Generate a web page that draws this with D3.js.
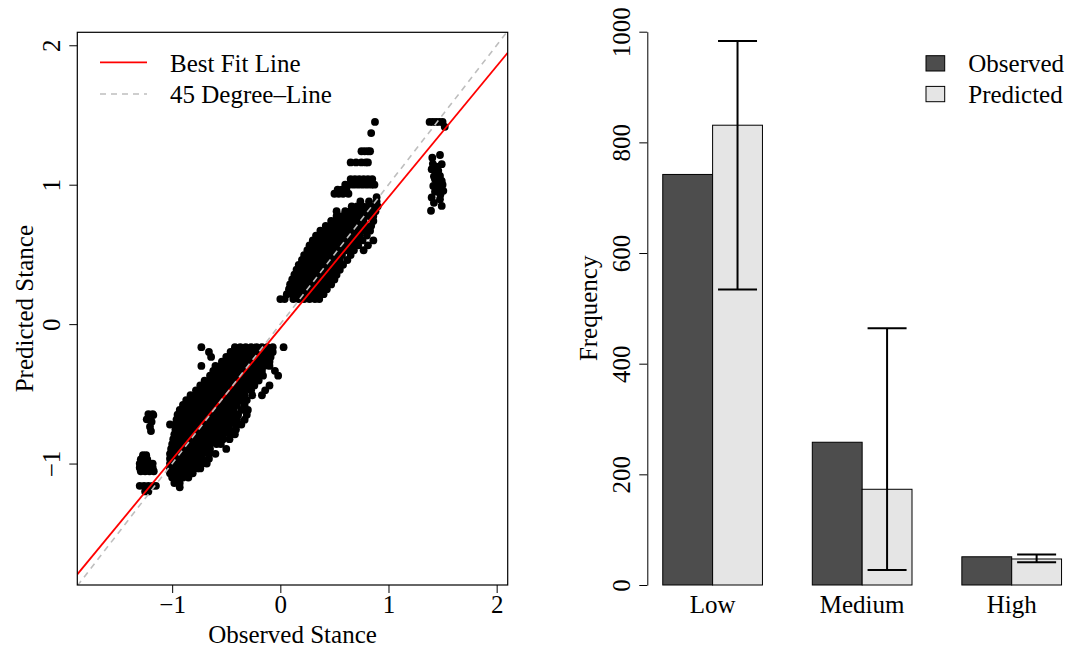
<!DOCTYPE html>
<html>
<head>
<meta charset="utf-8">
<script src="https://cdn.jsdelivr.net/npm/d3@7"></script>
<style>
  body { margin: 0; background: #fff; }
  text { font-family: "Liberation Serif", "Times New Roman", serif; fill: #000; }
</style>
</head>
<body>
<svg id="chart" width="1067" height="648"></svg>
<script>
// ---------------- Scatter data (Observed stance x, Predicted stance y) ----------------
// rows: [predicted value, [observed values ...]]
const upperRows = [
  [0.18,  [0.00, 0.04, 0.12, 0.17, 0.22, 0.27, 0.32, 0.36]],
  [0.215, [0.06, 0.11, 0.16, 0.21, 0.26, 0.31, 0.36, 0.40]],
  [0.25,  [0.08, 0.13, 0.18, 0.23, 0.28, 0.33, 0.38, 0.43]],
  [0.285, [0.09, 0.14, 0.19, 0.24, 0.29, 0.34, 0.39, 0.43, 0.47]],
  [0.32,  [0.11, 0.16, 0.21, 0.26, 0.31, 0.36, 0.41, 0.46, 0.50]],
  [0.355, [0.13, 0.18, 0.23, 0.28, 0.33, 0.38, 0.43, 0.48, 0.52]],
  [0.39,  [0.15, 0.20, 0.25, 0.30, 0.35, 0.40, 0.45, 0.50, 0.55]],
  [0.425, [0.17, 0.22, 0.27, 0.32, 0.37, 0.42, 0.47, 0.52, 0.58]],
  [0.46,  [0.20, 0.25, 0.30, 0.35, 0.40, 0.45, 0.50, 0.55, 0.62]],
  [0.495, [0.22, 0.27, 0.32, 0.37, 0.42, 0.47, 0.52, 0.57, 0.65]],
  [0.53,  [0.25, 0.30, 0.35, 0.40, 0.45, 0.50, 0.55, 0.60, 0.64, 0.68, 0.77]],
  [0.565, [0.27, 0.32, 0.37, 0.42, 0.47, 0.52, 0.57, 0.62, 0.67, 0.72, 0.81]],
  [0.60,  [0.30, 0.35, 0.40, 0.45, 0.50, 0.55, 0.60, 0.65, 0.70, 0.76, 0.86]],
  [0.635, [0.33, 0.38, 0.43, 0.48, 0.53, 0.58, 0.63, 0.68, 0.73, 0.80]],
  [0.67,  [0.37, 0.42, 0.47, 0.52, 0.57, 0.62, 0.67, 0.72, 0.77, 0.83]],
  [0.705, [0.42, 0.47, 0.52, 0.57, 0.62, 0.67, 0.72, 0.78, 0.84]],
  [0.74,  [0.47, 0.52, 0.57, 0.62, 0.67, 0.72, 0.77, 0.86]],
  [0.775, [0.52, 0.57, 0.62, 0.67, 0.72, 0.77, 0.82, 0.86]],
  [0.81,  [0.52, 0.60, 0.65, 0.70, 0.75, 0.80, 0.84, 0.88]],
  [0.845, [0.66, 0.71, 0.76, 0.81, 0.86, 0.90]],
  [0.88,  [0.74, 0.82, 0.89]],
  [0.91,  [0.89]],
  [0.935, [0.50, 0.54, 0.58, 0.63]],
  [0.965, [0.53, 0.57, 0.61]],
  [1.00,  [0.60, 0.64, 0.68, 0.72, 0.76, 0.80, 0.84, 0.87]],
  [1.04,  [0.65, 0.69, 0.73, 0.77, 0.81, 0.85]],
  [1.16,  [0.65, 0.70, 0.75, 0.79, 0.81]],
  [1.24,  [0.75, 0.78, 0.81, 0.83]],
  [1.37,  [0.84]],
  [1.45,  [0.875]]
];

const lowerRows = [
  [-0.165, [-0.73, -0.42, -0.37, -0.32, -0.27, -0.22, -0.17, -0.12, -0.07, 0.03]],
  [-0.20,  [-0.66, -0.46, -0.41, -0.36, -0.31, -0.26, -0.21, -0.16, -0.11, -0.07]],
  [-0.235, [-0.64, -0.50, -0.45, -0.40, -0.35, -0.30, -0.25, -0.20, -0.15, -0.09]],
  [-0.27,  [-0.54, -0.49, -0.44, -0.39, -0.34, -0.29, -0.24, -0.19, -0.14, -0.10]],
  [-0.30,  [-0.73, -0.60, -0.55, -0.50, -0.45, -0.40, -0.35, -0.30, -0.25, -0.20, -0.15, -0.10]],
  [-0.335, [-0.62, -0.57, -0.52, -0.47, -0.42, -0.37, -0.32, -0.27, -0.22, -0.17, -0.05]],
  [-0.37,  [-0.65, -0.60, -0.55, -0.50, -0.45, -0.40, -0.35, -0.30, -0.25, -0.20, -0.16, -0.02]],
  [-0.405, [-0.70, -0.65, -0.60, -0.55, -0.50, -0.45, -0.40, -0.35, -0.30, -0.25, -0.20]],
  [-0.44,  [-0.74, -0.69, -0.64, -0.59, -0.54, -0.49, -0.44, -0.39, -0.34, -0.29, -0.24, -0.10]],
  [-0.475, [-0.78, -0.73, -0.68, -0.63, -0.58, -0.53, -0.48, -0.43, -0.38, -0.33, -0.27, -0.14]],
  [-0.51,  [-0.83, -0.78, -0.73, -0.68, -0.63, -0.58, -0.53, -0.48, -0.43, -0.38, -0.33, -0.26, -0.17]],
  [-0.545, [-0.87, -0.82, -0.77, -0.72, -0.67, -0.62, -0.57, -0.52, -0.47, -0.42, -0.37, -0.31]],
  [-0.58,  [-0.90, -0.85, -0.80, -0.75, -0.70, -0.65, -0.60, -0.55, -0.50, -0.45, -0.40, -0.33]],
  [-0.615, [-0.93, -0.88, -0.83, -0.78, -0.73, -0.68, -0.63, -0.58, -0.53, -0.48, -0.43, -0.36, -0.30]],
  [-0.65,  [-0.95, -0.90, -0.85, -0.80, -0.75, -0.70, -0.65, -0.60, -0.55, -0.50, -0.45, -0.39, -0.31]],
  [-0.685, [-0.96, -0.91, -0.86, -0.81, -0.76, -0.71, -0.66, -0.61, -0.56, -0.51, -0.46, -0.40, -0.33]],
  [-0.72,  [-1.02, -0.97, -0.92, -0.87, -0.82, -0.77, -0.72, -0.67, -0.62, -0.57, -0.52, -0.47, -0.41, -0.36]],
  [-0.755, [-0.97, -0.92, -0.87, -0.82, -0.77, -0.72, -0.67, -0.62, -0.57, -0.52, -0.47, -0.41]],
  [-0.79,  [-0.98, -0.93, -0.88, -0.83, -0.78, -0.73, -0.68, -0.63, -0.58, -0.53, -0.47, -0.42]],
  [-0.825, [-0.99, -0.94, -0.89, -0.84, -0.79, -0.74, -0.69, -0.64, -0.59, -0.53, -0.47]],
  [-0.86,  [-1.00, -0.95, -0.90, -0.85, -0.80, -0.75, -0.70, -0.65, -0.59, -0.55]],
  [-0.895, [-1.01, -0.96, -0.91, -0.86, -0.81, -0.76, -0.71, -0.65, -0.50]],
  [-0.93,  [-1.02, -0.97, -0.92, -0.87, -0.82, -0.77, -0.72, -0.66, -0.60]],
  [-0.965, [-1.02, -0.97, -0.92, -0.87, -0.82, -0.77, -0.72, -0.66]],
  [-1.00,  [-1.02, -0.97, -0.92, -0.87, -0.82, -0.77, -0.72, -0.68]],
  [-1.035, [-1.02, -0.97, -0.92, -0.87, -0.82, -0.77, -0.74]],
  [-1.07,  [-1.02, -0.96, -0.91, -0.86, -0.81]],
  [-1.10,  [-1.00, -0.95, -0.90, -0.85]],
  [-1.14,  [-0.98, -0.93]],
  [-1.17,  [-0.93]]
];

const farLeftRows = [
  [-0.645, [-1.22, -1.18]],
  [-0.652, [-1.174]],
  [-0.683, [-1.235]],
  [-0.70,  [-1.19]],
  [-0.736, [-1.205]],
  [-0.767, [-1.196]],
  [-0.94,  [-1.27, -1.24]],
  [-0.97,  [-1.29, -1.26, -1.23]],
  [-1.00,  [-1.30, -1.27, -1.24, -1.21, -1.18]],
  [-1.03,  [-1.30, -1.26, -1.22, -1.18]],
  [-1.055, [-1.29, -1.25, -1.21, -1.17]],
  [-1.16,  [-1.30, -1.26, -1.22, -1.18, -1.15]],
  [-1.20,  [-1.25, -1.22]]
];

const highClusterPoints = [
  [1.38, 1.45], [1.41, 1.45], [1.44, 1.45], [1.47, 1.45], [1.50, 1.45], [1.52, 1.415],
  [1.405, 1.194], [1.476, 1.213], [1.492, 1.147], [1.41, 1.15], [1.44, 1.13],
  [1.399, 1.111], [1.46, 1.10], [1.445, 1.087], [1.42, 1.06], [1.476, 1.063],
  [1.43, 1.039], [1.45, 1.02], [1.492, 1.027], [1.50, 1.00], [1.414, 0.991],
  [1.47, 0.99], [1.46, 0.968], [1.507, 0.956], [1.43, 0.95], [1.48, 0.93],
  [1.399, 0.908], [1.476, 0.896], [1.42, 0.87], [1.492, 0.848], [1.393, 0.813]
];

const fitIntercept = -0.03;
const fitSlope = 0.94;
const scatterTicks = [-1, 0, 1, 2];
const legendScatter = ["Best Fit Line", "45 Degree\u2013Line"];

// ---------------- Bar data ----------------
const categories = ["Low", "Medium", "High"];
const seriesNames = ["Observed", "Predicted"];
const observedFreq = [742, 258, 51];
const predictedFreq = [831, 173, 47];
const predictedLower = [534, 27, 41];
const predictedUpper = [983, 464, 55];
const freqTicks = [0, 200, 400, 600, 800, 1000];
const seriesColors = ["#4d4d4d", "#e5e5e5"];

// ---------------- Drawing ----------------
const svg = d3.select("#chart");
const FS = 25;
const minus = d => (d < 0 ? "\u2212" + Math.abs(d) : String(d));

const scatterPoints = []
  .concat(...[upperRows, lowerRows, farLeftRows].map(rows =>
     rows.flatMap(([yv, xs]) => xs.map(xv => ({ x: xv, y: yv })))))
  .concat(highClusterPoints.map(([xv, yv]) => ({ x: xv, y: yv })));

// Left panel
const L = { left: 77.3, right: 507.7, top: 32.3, bottom: 585 };
const x = d3.scaleLinear().domain([-1.877, 2.102]).range([L.left, L.right]);
const y = d3.scaleLinear().domain([-1.871, 2.093]).range([L.bottom, L.top]);

svg.append("clipPath").attr("id", "clipL").append("rect")
  .attr("x", L.left).attr("y", L.top)
  .attr("width", L.right - L.left).attr("height", L.bottom - L.top);

const gL = svg.append("g");
gL.append("g").selectAll("circle").data(scatterPoints).join("circle")
  .attr("cx", d => x(d.x)).attr("cy", d => y(d.y)).attr("r", 3.9).attr("fill", "#000");

const dom = x.domain();
const lines = gL.append("g").attr("clip-path", "url(#clipL)");
lines.append("line")
  .attr("x1", x(dom[0])).attr("y1", y(fitIntercept + fitSlope * dom[0]))
  .attr("x2", x(dom[1])).attr("y2", y(fitIntercept + fitSlope * dom[1]))
  .attr("stroke", "#ff0000").attr("stroke-width", 1.8);
lines.append("line")
  .attr("x1", x(dom[0])).attr("y1", y(dom[0]))
  .attr("x2", x(dom[1])).attr("y2", y(dom[1]))
  .attr("stroke", "#bebebe").attr("stroke-width", 1.6).attr("stroke-dasharray", "6,5");

gL.append("rect").attr("x", L.left).attr("y", L.top)
  .attr("width", L.right - L.left).attr("height", L.bottom - L.top)
  .attr("fill", "none").attr("stroke", "#000").attr("stroke-width", 1.2);

const xAxis = gL.append("g").attr("transform", `translate(0,${L.bottom})`)
  .call(d3.axisBottom(x).tickValues(scatterTicks).tickSize(8).tickSizeOuter(0).tickFormat(minus));
xAxis.select(".domain").remove();
xAxis.selectAll("line").attr("stroke", "#000");
xAxis.selectAll("text").attr("y", 27.7).attr("dy", null)
  .style("font-size", FS + "px").style("font-family", "Liberation Serif, serif");

const yAxis = gL.append("g").attr("transform", `translate(${L.left},0)`)
  .call(d3.axisLeft(y).tickValues(scatterTicks).tickSize(8).tickSizeOuter(0).tickFormat(minus));
yAxis.select(".domain").remove();
yAxis.selectAll("text").attr("x", 0).attr("y", 0).attr("dy", null)
  .attr("text-anchor", "middle")
  .attr("transform", "translate(-17.3,0) rotate(-90)")
  .style("font-size", FS + "px").style("font-family", "Liberation Serif, serif");

gL.append("text").attr("x", (L.left + L.right) / 2).attr("y", 643)
  .attr("text-anchor", "middle").style("font-size", FS + "px").text("Observed Stance");
gL.append("text").attr("transform", `translate(32.5,${(L.top + L.bottom) / 2}) rotate(-90)`)
  .attr("text-anchor", "middle").style("font-size", FS + "px").text("Predicted Stance");

// legend (left)
const legL = gL.append("g");
const legYs = [62.3, 94];
legL.append("line").attr("x1", 100).attr("x2", 147).attr("y1", legYs[0]).attr("y2", legYs[0])
  .attr("stroke", "#ff0000").attr("stroke-width", 1.8);
legL.append("line").attr("x1", 100).attr("x2", 147).attr("y1", legYs[1]).attr("y2", legYs[1])
  .attr("stroke", "#bebebe").attr("stroke-width", 1.6).attr("stroke-dasharray", "6,5");
legendScatter.forEach((t, i) => {
  legL.append("text").attr("x", 170).attr("y", legYs[i] + 9.2)
    .style("font-size", FS + "px").text(t);
});

// Right panel
const R = { axisX: 647.3, top: 31.7, bottom: 585 };
const xu = d3.scaleLinear().domain([0.69, 9.31]).range([R.axisX, 1077]);
const yF = d3.scaleLinear().domain([0, 1000]).range([R.bottom, R.top]);
const xGroup = d3.scaleBand().domain(categories).range([xu(0.5), xu(9.5)])
  .paddingInner(1 / 3).paddingOuter(1 / 6);
const xSub = d3.scaleBand().domain(seriesNames).range([0, xGroup.bandwidth()]);

const barData = categories.map((c, i) => ({
  cat: c,
  values: [
    { s: seriesNames[0], v: observedFreq[i] },
    { s: seriesNames[1], v: predictedFreq[i] }
  ],
  lo: predictedLower[i], hi: predictedUpper[i]
}));

const gR = svg.append("g");
const grp = gR.selectAll("g.grp").data(barData).join("g").attr("class", "grp")
  .attr("transform", d => `translate(${xGroup(d.cat)},0)`);
grp.selectAll("rect").data(d => d.values).join("rect")
  .attr("x", d => xSub(d.s)).attr("width", xSub.bandwidth())
  .attr("y", d => yF(d.v)).attr("height", d => yF(0) - yF(d.v))
  .attr("fill", (d, i) => seriesColors[i]).attr("stroke", "#000").attr("stroke-width", 1);

const capHalf = 19.5;
grp.each(function (d) {
  const g = d3.select(this);
  const cx = xSub(seriesNames[1]) + xSub.bandwidth() / 2;
  g.append("line").attr("x1", cx).attr("x2", cx).attr("y1", yF(d.lo)).attr("y2", yF(d.hi))
    .attr("stroke", "#000").attr("stroke-width", 2);
  [d.lo, d.hi].forEach(v => g.append("line")
    .attr("x1", cx - capHalf).attr("x2", cx + capHalf).attr("y1", yF(v)).attr("y2", yF(v))
    .attr("stroke", "#000").attr("stroke-width", 2));
});

gR.selectAll("text.cat").data(categories).join("text").attr("class", "cat")
  .attr("x", d => xGroup(d) + xGroup.bandwidth() / 2).attr("y", 612.7)
  .attr("text-anchor", "middle").style("font-size", FS + "px").text(d => d);

const fAxis = gR.append("g").attr("transform", `translate(${R.axisX},0)`)
  .call(d3.axisLeft(yF).tickValues(freqTicks).tickSize(8).tickSizeOuter(0).tickFormat(d3.format("d")));
fAxis.select(".domain").attr("stroke", "#000");
fAxis.selectAll("text").attr("x", 0).attr("y", 0).attr("dy", null)
  .attr("text-anchor", "middle")
  .attr("transform", "translate(-17.3,0) rotate(-90)")
  .style("font-size", FS + "px").style("font-family", "Liberation Serif, serif");

gR.append("text").attr("transform", `translate(596.5,${(R.top + R.bottom) / 2}) rotate(-90)`)
  .attr("text-anchor", "middle").style("font-size", FS + "px").text("Frequency");

// legend (right)
const legR = gR.append("g");
const legRY = [63.3, 94];
seriesNames.forEach((s, i) => {
  legR.append("rect").attr("x", 926).attr("y", legRY[i] - 7.6).attr("width", 18.7).attr("height", 15.3)
    .attr("fill", seriesColors[i]).attr("stroke", "#000").attr("stroke-width", 1);
  legR.append("text").attr("x", 968.3).attr("y", legRY[i] + 8.8)
    .style("font-size", FS + "px").text(s);
});
</script>
</body>
</html>
